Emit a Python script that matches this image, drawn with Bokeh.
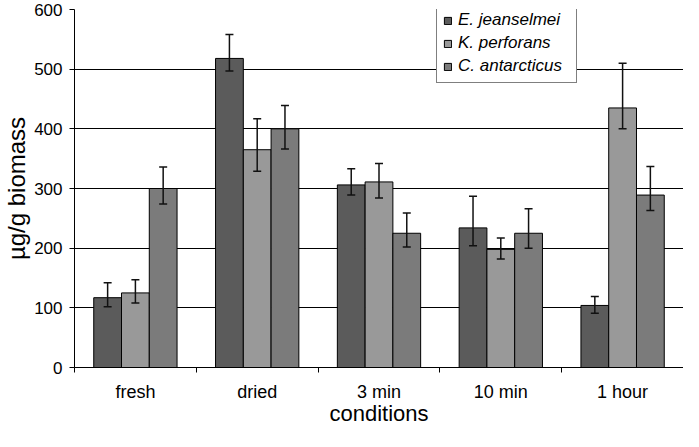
from bokeh.plotting import figure
from bokeh.models import ColumnDataSource, Whisker, TeeHead, FixedTicker, Range1d
from bokeh.embed import file_html
from bokeh.resources import INLINE

# ---- data ----
conditions = ["fresh", "dried", "3 min", "10 min", "1 hour"]
species = ["E. jeanselmei", "K. perforans", "C. antarcticus"]

e_mean = [117, 518, 306, 234, 104]
e_upper = [142, 558, 333, 287, 119]
e_lower = [102, 497, 289, 204, 91]

k_mean = [125, 365, 311, 198, 435]
k_upper = [147, 417, 342, 217, 510]
k_lower = [108, 329, 284, 182, 400]

c_mean = [300, 400, 225, 225, 289]
c_upper = [336, 439, 259, 266, 337]
c_lower = [274, 366, 202, 200, 263]

y_ticks = [0, 100, 200, 300, 400, 500, 600]
colors = ["#5b5b5b", "#999999", "#7b7b7b"]
x_title = "conditions"
y_title = "µg/g biomass"

FONT = "Liberation Sans"
BAR_W = 0.228

n = len(conditions)
p = figure(width=683, height=431,
           x_range=Range1d(-0.5, n - 0.5), y_range=Range1d(0, 600),
           output_backend="svg", toolbar_location=None,
           min_border_left=74, min_border_right=0, min_border_top=9,
           min_border_bottom=64)
p.outline_line_color = None
p.background_fill_color = "white"
p.border_fill_color = "white"

series = [(e_mean, e_upper, e_lower), (k_mean, k_upper, k_lower), (c_mean, c_upper, c_lower)]
for j, (mean, up, lo) in enumerate(series):
    off = (j - 1) * BAR_W
    src = ColumnDataSource(dict(x=[i + off for i in range(n)], top=mean, upper=up, lower=lo))
    p.vbar(x="x", top="top", bottom=0, width=BAR_W, source=src,
           fill_color=colors[j], line_color="black", line_width=1,
           legend_label=species[j])
    w = Whisker(source=src, base="x", upper="upper", lower="lower",
                line_color="#111111", line_width=1.5, level="annotation",
                upper_head=TeeHead(size=8, line_color="#111111", line_width=1.5),
                lower_head=TeeHead(size=8, line_color="#111111", line_width=1.5))
    p.add_layout(w)

# x axis: labels at centers, tick marks at category boundaries
p.xaxis.ticker = FixedTicker(ticks=list(range(n)),
                             minor_ticks=[i - 0.5 for i in range(n + 1)])
p.xaxis.major_label_overrides = {i: c for i, c in enumerate(conditions)}
p.xaxis.major_tick_line_color = None
p.xaxis.major_tick_out = 0
p.xaxis.major_tick_in = 0
p.xaxis.minor_tick_line_color = "black"
p.xaxis.minor_tick_out = 5
p.xaxis.minor_tick_in = 0
p.xaxis.major_label_standoff = 9
p.xaxis.axis_label = x_title
p.xaxis.axis_label_standoff = -4

# y axis
p.yaxis.ticker = FixedTicker(ticks=y_ticks)
p.yaxis.minor_tick_line_color = None
p.yaxis.major_tick_out = 5
p.yaxis.major_tick_in = 0
p.yaxis.major_label_standoff = 7
p.yaxis.axis_label = y_title
p.yaxis.axis_label_standoff = 1

for ax in (p.xaxis, p.yaxis):
    ax.axis_line_color = "black"
    ax.axis_line_width = 1
    ax.major_label_text_font = FONT
    ax.major_label_text_color = "black"
    ax.axis_label_text_font = FONT
    ax.axis_label_text_font_style = "normal"
    ax.axis_label_text_color = "black"
p.xaxis.major_label_text_font_size = "18px"
p.yaxis.major_label_text_font_size = "17px"
p.xaxis.axis_label_text_font_size = "22px"
p.yaxis.axis_label_text_font_size = "24px"

p.xgrid.visible = False
p.ygrid.ticker = FixedTicker(ticks=y_ticks)
p.ygrid.grid_line_color = "black"
p.ygrid.grid_line_width = 1

lg = p.legend[0]
lg.location = (362, 284)
lg.border_line_color = "black"
lg.border_line_width = 1.5
lg.background_fill_color = "white"
lg.background_fill_alpha = 1
lg.label_text_font = FONT
lg.label_text_font_style = "italic"
lg.label_text_font_size = "17px"
lg.label_text_color = "black"
lg.glyph_width = 9
lg.glyph_height = 9
lg.label_standoff = 6
lg.label_height = 20
lg.label_width = 112
lg.spacing = 3
lg.padding = 6
lg.margin = 0

open("out.html", "w").write(file_html(p, INLINE))
